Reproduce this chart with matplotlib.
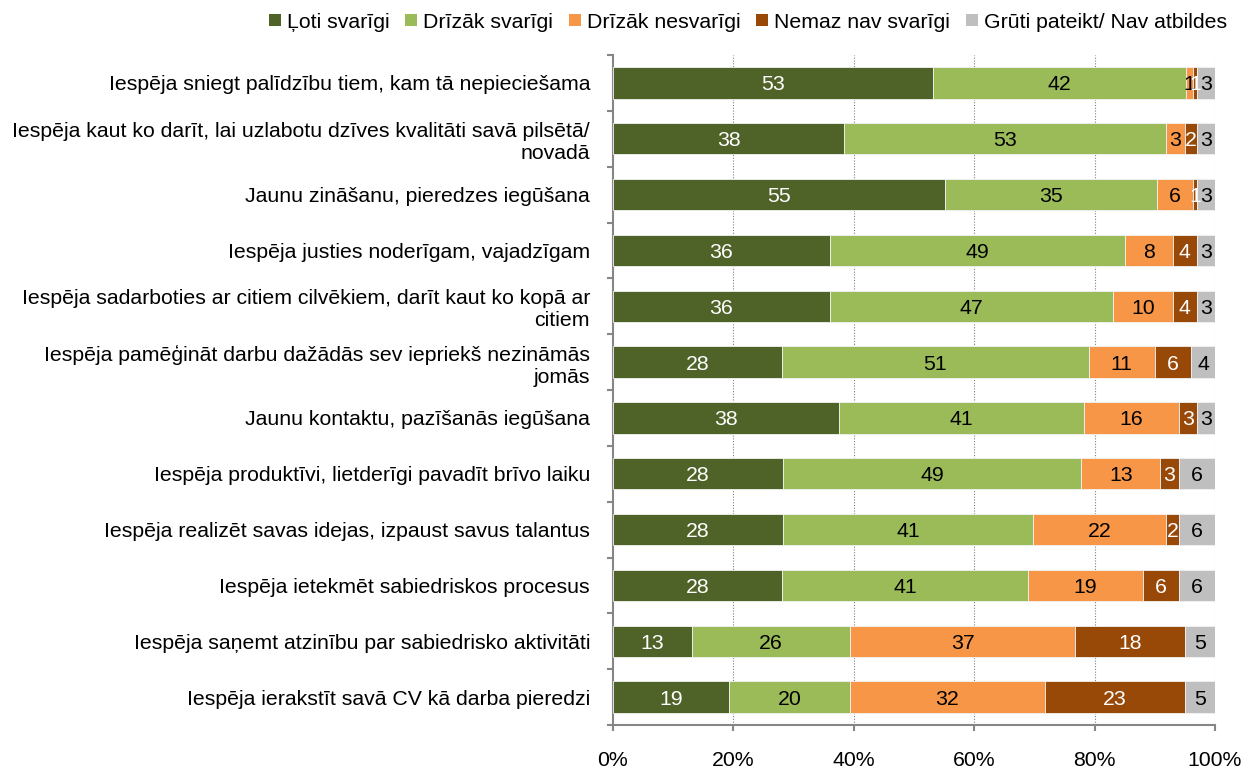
import matplotlib
matplotlib.use("Agg")
import matplotlib.pyplot as plt
import numpy as np

plt.rcParams['font.family'] = ['Liberation Sans', 'DejaVu Sans']

categories = [
    "Iespēja sniegt palīdzību tiem, kam tā nepieciešama",
    "Iespēja kaut ko darīt, lai uzlabotu dzīves kvalitāti savā pilsētā/\nnovadā",
    "Jaunu zināšanu, pieredzes iegūšana",
    "Iespēja justies noderīgam, vajadzīgam",
    "Iespēja sadarboties ar citiem cilvēkiem, darīt kaut ko kopā ar\ncitiem",
    "Iespēja pamēģināt darbu dažādās sev iepriekš nezināmās\njomās",
    "Jaunu kontaktu, pazīšanās iegūšana",
    "Iespēja produktīvi, lietderīgi pavadīt brīvo laiku",
    "Iespēja realizēt savas idejas, izpaust savus talantus",
    "Iespēja ietekmēt sabiedriskos procesus",
    "Iespēja saņemt atzinību par sabiedrisko aktivitāti",
    "Iespēja ierakstīt savā CV kā darba pieredzi",
]

series_names = ["Ļoti svarīgi", "Drīzāk svarīgi", "Drīzāk nesvarīgi",
                "Nemaz nav svarīgi", "Grūti pateikt/ Nav atbildes"]

loti = [53, 38, 55, 36, 36, 28, 38, 28, 28, 28, 13, 19]
drizak = [42, 53, 35, 49, 47, 51, 41, 49, 41, 41, 26, 20]
nesvarigi = [1.2, 3, 6, 8, 10, 11, 16, 13, 22, 19, 37, 32]
nemaz = [0.6, 2, 0.6, 4, 4, 6, 3, 3, 2, 6, 18, 23]
gruti = [3, 3, 3, 3, 3, 4, 3, 6, 6, 6, 5, 5]

colors = ["#4F6228", "#9BBB59", "#F79646", "#984807", "#BFBFBF"]
text_colors = ["white", "black", "black", "white", "black"]

FS = 15.3

data = np.array([loti, drizak, nesvarigi, nemaz, gruti], dtype=float)
totals = data.sum(axis=0)
pct = data / totals * 100

fig = plt.figure(figsize=(12.53, 7.70), dpi=100)
ax = fig.add_axes([613/1253, 1-725/770, (1215-613)/1253, (725-55)/770])

y = np.arange(len(categories))
left = np.zeros(len(categories))
for i, name in enumerate(series_names):
    bars = ax.barh(y, pct[i], left=left, height=0.56, color=colors[i],
                   label=name, edgecolor="#F2F2F2", linewidth=0.6, zorder=3)
    for j, b in enumerate(bars):
        cx = left[j] + pct[i][j] / 2
        ax.text(cx, y[j], f"{data[i][j]:.0f}", ha="center", va="center_baseline",
                color=text_colors[i], fontsize=FS, zorder=4)
    left += pct[i]

ax.set_xlim(0, 100)
ax.set_ylim(len(categories) - 0.5, -0.5)

ax.set_xticks([0, 20, 40, 60, 80, 100])
ax.set_xticklabels(["0%", "20%", "40%", "60%", "80%", "100%"], fontsize=FS)
ax.tick_params(axis="x", direction="out", length=4, width=1.5, color="#868686", pad=15)

ax.set_yticks(np.arange(len(categories) + 1) - 0.5)
ax.set_yticklabels([])
ax.tick_params(axis="y", which="major", direction="out", length=4, width=1.5, color="#868686")
ax.set_yticks(y, minor=True)
ax.set_yticklabels(categories, minor=True, fontsize=FS, linespacing=1.2)
ax.tick_params(axis="y", which="minor", length=0, pad=16.5)

for s in ["top", "right"]:
    ax.spines[s].set_visible(False)
for s in ["left", "bottom"]:
    ax.spines[s].set_color("#868686")
    ax.spines[s].set_linewidth(1.5)

for xv in [20, 40, 60, 80, 100]:
    ax.axvline(xv, color="#808080", linestyle=(0, (1, 1.5)), linewidth=0.8, zorder=1)

leg = fig.legend(loc="center", bbox_to_anchor=(748/1253, 1-22/770), ncol=5,
                 frameon=False, fontsize=FS, handlelength=0.55, handleheight=0.55,
                 handletextpad=0.3, columnspacing=0.74)
for h in leg.legend_handles:
    h.set_edgecolor("none")

fig.savefig("out.png", dpi=100)
